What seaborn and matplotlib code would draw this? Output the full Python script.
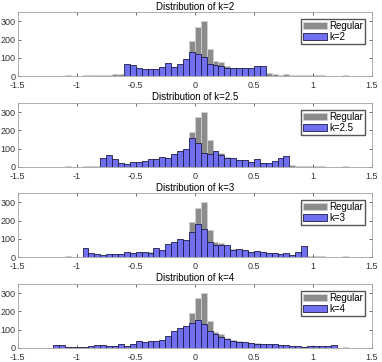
import numpy as np
import pandas as pd
import seaborn as sns
import matplotlib.pyplot as plt

# bin width used everywhere
BW = 0.05

# Regular: counts per 0.05 bin, from -1.5 to 1.5 (60 bins)
regular_counts = [
    0, 0, 0, 0, 0, 0, 0, 2, 3, 0,
    0, 4, 3, 3, 3, 5, 10, 10, 8, 12,
    15, 20, 25, 30, 33, 40, 50, 60, 90, 190,
    272, 300, 150, 85, 75, 55, 45, 38, 33, 28,
    25, 20, 18, 10, 8, 10, 8, 5, 3, 3,
    7, 3, 0, 2, 0, 3, 0, 2, 0, 0,
]

# k=2 : 24 bins from -0.6 to 0.6
k2_counts = [65, 62, 42, 37, 40, 40, 50, 72, 52, 68, 93, 133,
             120, 105, 68, 62, 55, 45, 45, 45, 42, 42, 57, 57]

# k=2.5 : 32 bins from -0.8 to 0.8
k25_counts = [51, 66, 46, 24, 18, 27, 27, 33, 44, 44, 55, 48, 71, 88, 98, 159,
              132, 77, 73, 88, 66, 50, 51, 37, 37, 26, 46, 24, 22, 35, 50, 58]

# k=3 : 38 bins from -0.95 to 0.95
k3_counts = [52, 22, 15, 13, 19, 15, 15, 26, 22, 28, 28, 22, 49, 41, 71, 84, 99, 94, 137,
             184, 156, 81, 64, 64, 68, 39, 45, 41, 28, 34, 30, 24, 24, 19, 21, 13, 30, 58]

# k=4 : 48 bins from -1.2 to 1.2
k4_counts = [15, 15, 7, 6, 7, 7, 11, 15, 15, 9, 9, 20, 11, 20, 37, 30, 37, 39, 45, 64,
             92, 107, 118, 135,
             154, 131, 92, 79, 60, 51, 37, 32, 32, 28, 22, 22, 21, 19, 17, 15,
             11, 11, 7, 13, 9, 11, 9, 15]

panels = [("k=2", 0.6, k2_counts),
          ("k=2.5", 0.8, k25_counts),
          ("k=3", 0.95, k3_counts),
          ("k=4", 1.2, k4_counts)]

plt.rcParams['font.family'] = ['Liberation Sans', 'DejaVu Sans']
plt.rcParams['font.size'] = 7

fig = plt.figure(figsize=(3.82, 3.62), dpi=100)

reg_edges = np.round(np.arange(-1.5, 1.5 + BW / 2, BW), 4)
reg_df = pd.DataFrame({'x': reg_edges[:-1] + BW / 2, 'w': regular_counts})

bottoms = [0.790, 0.539, 0.290, 0.039]
for (name, lim, counts), b in zip(panels, bottoms):
    ax = fig.add_axes([0.046, b, 0.928, 0.176])
    edges = np.round(np.arange(-lim, lim + BW / 2, BW), 4)
    df = pd.DataFrame({'x': edges[:-1] + BW / 2, 'w': counts})

    sns.histplot(data=reg_df, x='x', weights='w', bins=list(reg_edges), ax=ax,
                 color='#8c8c8c', alpha=1.0, edgecolor='#d0d0d0', linewidth=0.6,
                 label='Regular')
    sns.histplot(data=df, x='x', weights='w', bins=list(edges), ax=ax,
                 color='#6f6ff0', alpha=1.0, edgecolor='#1c1c4a', linewidth=0.6,
                 label=name)

    ax.set_xlim(-1.5, 1.5)
    ax.set_ylim(0, 350)
    ax.set_xticks([-1.5, -1, -0.5, 0, 0.5, 1, 1.5])
    ax.set_xticklabels(['-1.5', '-1', '-0.5', '0', '0.5', '1', '1.5'])
    ax.set_yticks([0, 100, 200, 300])
    ax.set_xlabel('')
    ax.set_ylabel('')
    ax.set_title('Distribution of ' + name, fontsize=7, pad=2)
    ax.tick_params(direction='in', length=2.5, width=0.5, colors='#333333',
                   top=True, right=True, labelsize=6.5)
    ax.tick_params(axis='x', pad=3.5)
    ax.tick_params(axis='y', pad=1.5)
    for s in ax.spines.values():
        s.set_color('#a0a0a0')
        s.set_linewidth(0.6)
    ax.legend(loc='upper right', fontsize=7, frameon=True, fancybox=False,
              edgecolor='#555555', framealpha=1, handlelength=2.5,
              handletextpad=0.2, borderpad=0.2, labelspacing=0.1,
              borderaxespad=0.7)

fig.savefig('out.png', dpi=100)
